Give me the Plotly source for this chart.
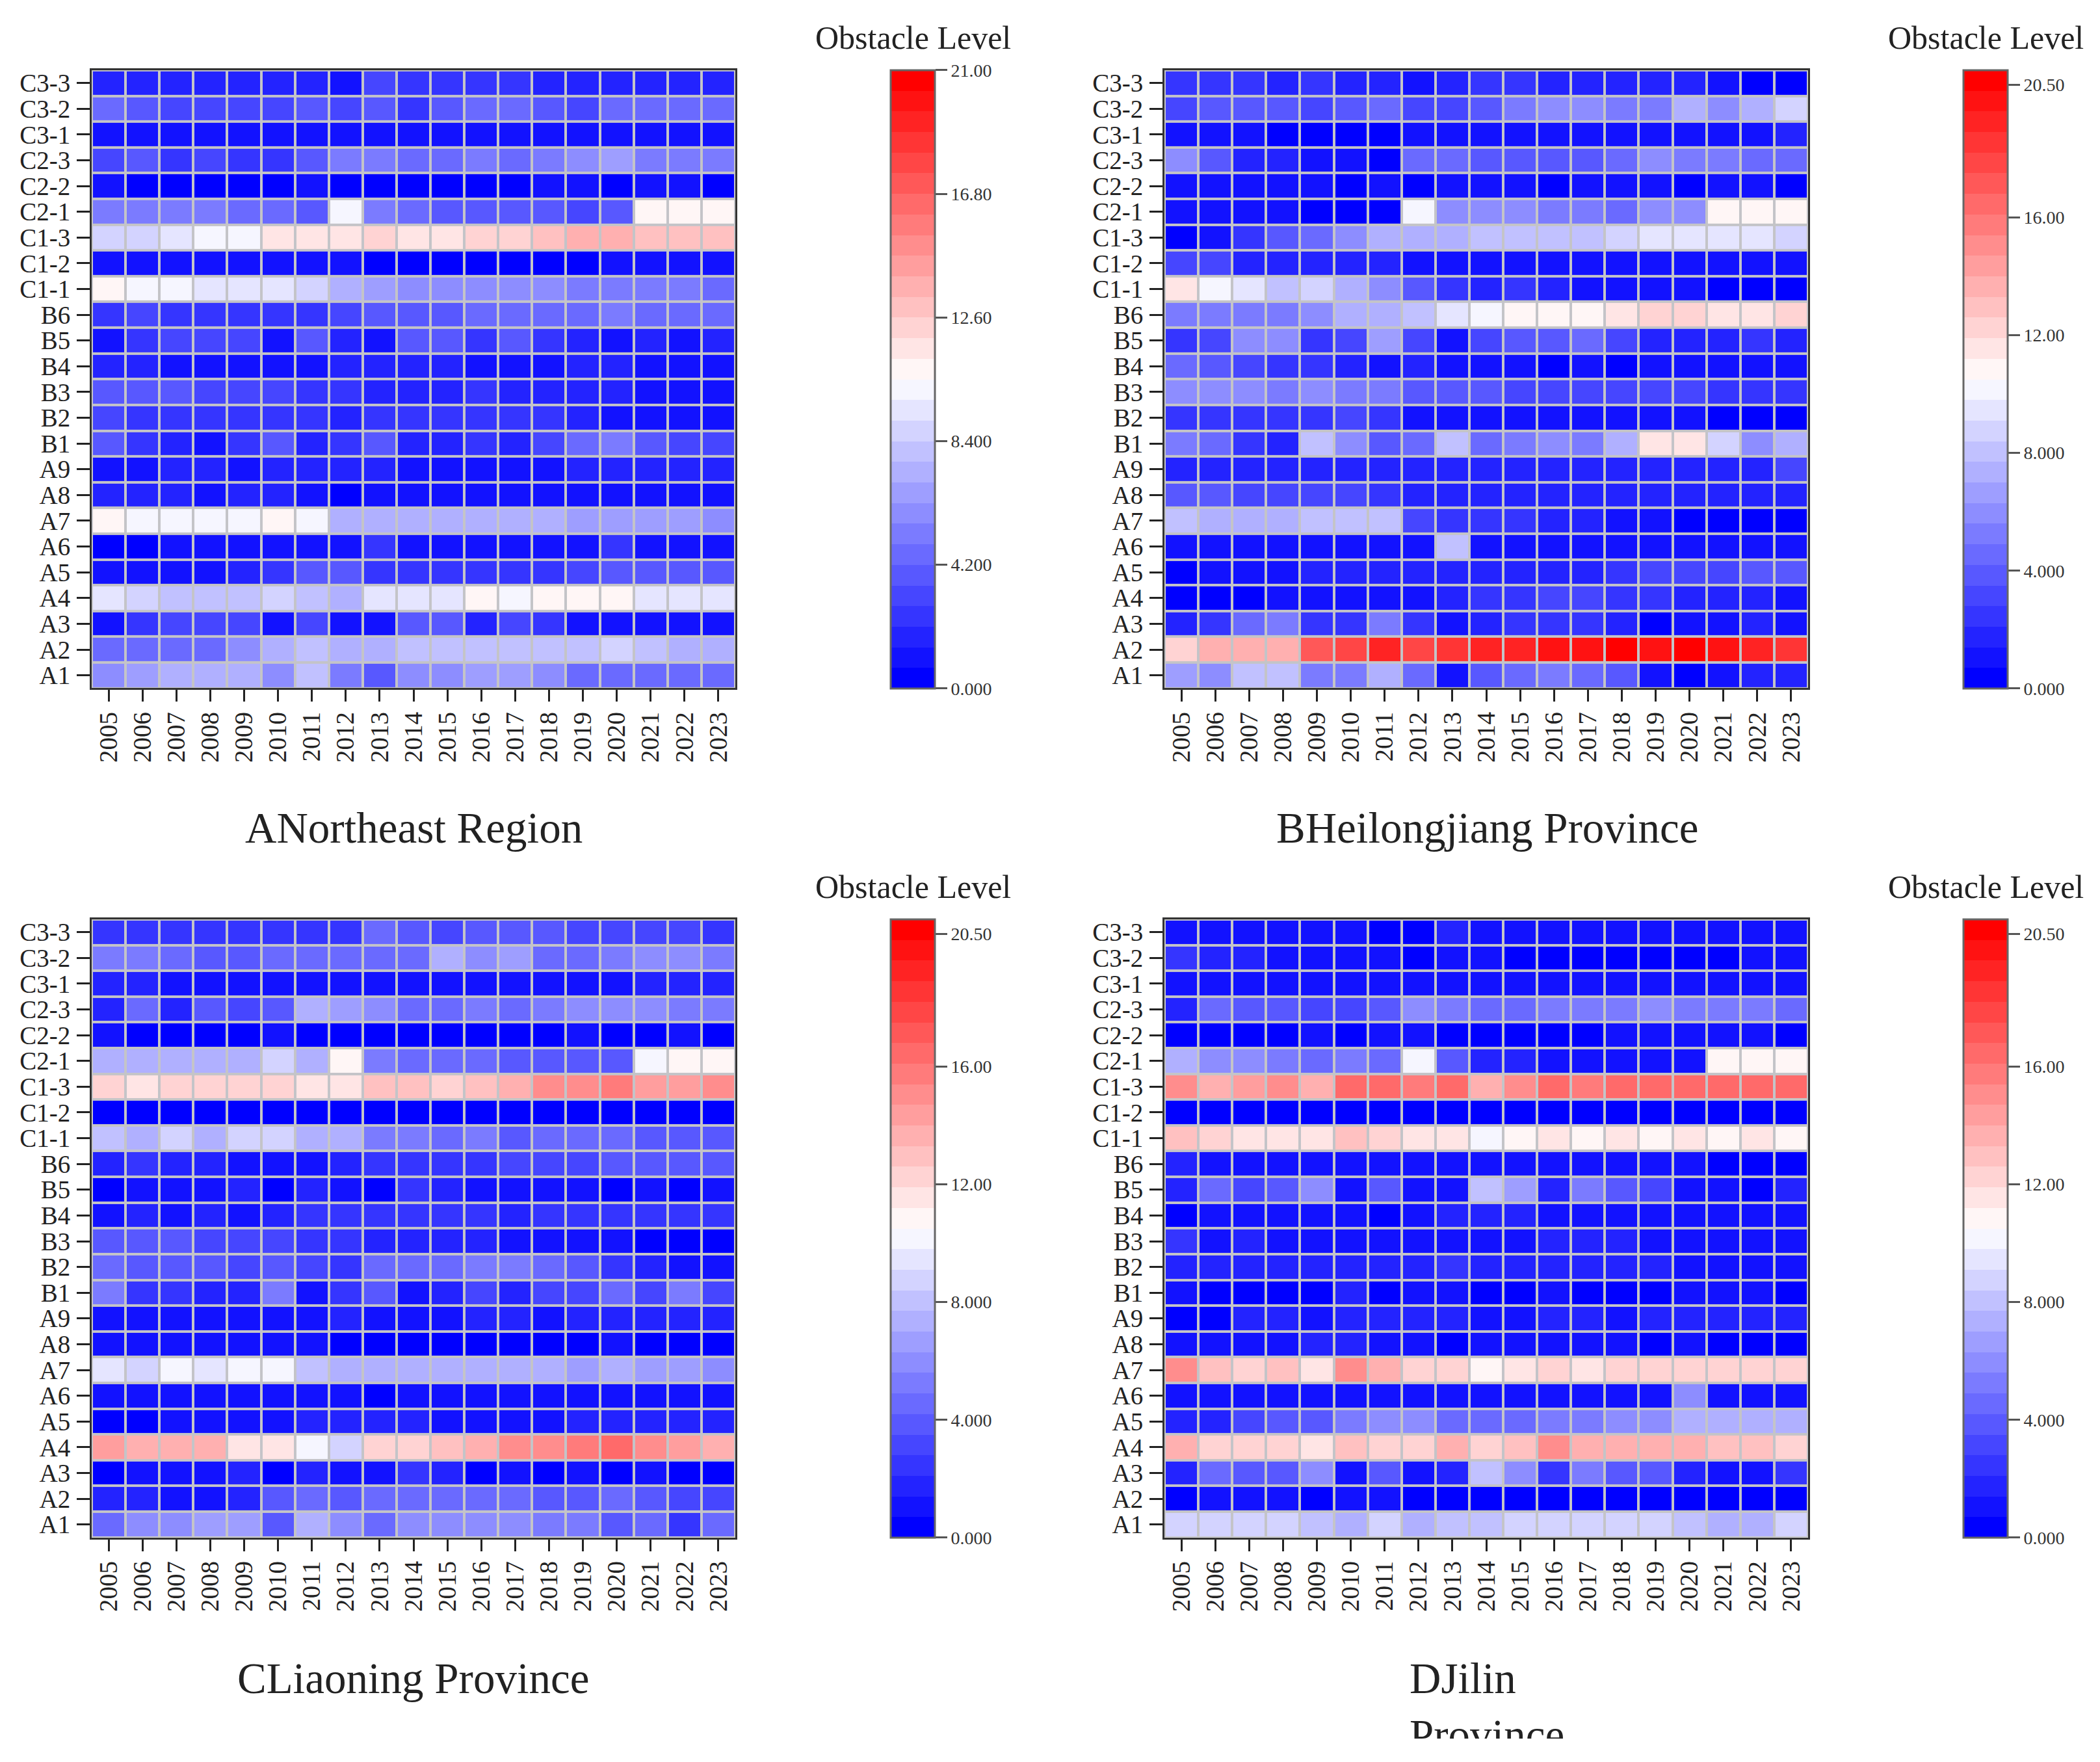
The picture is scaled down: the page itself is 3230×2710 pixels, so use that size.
import plotly.graph_objects as go

years = ['2005', '2006', '2007', '2008', '2009', '2010', '2011', '2012', '2013', '2014',
         '2015', '2016', '2017', '2018', '2019', '2020', '2021', '2022', '2023']
rows = ['C3-3', 'C3-2', 'C3-1', 'C2-3', 'C2-2', 'C2-1', 'C1-3', 'C1-2', 'C1-1', 'B6', 'B5', 'B4',
        'B3', 'B2', 'B1', 'A9', 'A8', 'A7', 'A6', 'A5', 'A4', 'A3', 'A2', 'A1']

northeast = [
    [1.6, 2, 1.8, 2, 2, 2, 1.5, 1.3, 3.4, 2.6, 2.6, 2.6, 2.6, 2, 1.8, 1.8, 1.5, 1.7, 1.4],
    [4.2, 3.6, 3.4, 3.4, 2.8, 3.4, 3.6, 2.8, 3.6, 2.5, 4, 4.2, 4.2, 3.6, 3.4, 4.2, 4.4, 4.6, 4.6],
    [1.1, 1.1, .9, .9, .9, .9, .9, .9, .9, .9, .9, .9, .9, 1.0, 1.2, 1.2, 1.2, 1.1, 1.3],
    [3.3, 3.9, 2.6, 3.2, 2.6, 2.6, 3.6, 5.3, 5.3, 4.8, 4.8, 5, 4.8, 5.2, 6, 6.4, 5.4, 5.2, 5],
    [.9, .2, .2, .2, .2, .2, .9, .2, .2, .2, .2, .2, .2, .8, .8, .2, .8, .8, .3],
    [5, 5, 5, 5, 4.4, 4.6, 3.6, 10.1, 5, 4.4, 3.8, 3.8, 3.6, 3.6, 3.4, 3.5, 10.7, 10.7, 10.7],
    [8.6, 8.6, 9.4, 10.2, 10.1, 11.3, 11.4, 11.4, 12.1, 11.6, 11.5, 12.1, 12.2, 12.9, 13.4, 13.7, 13, 13, 13],
    [1.2, 1, .9, .9, .9, .9, .9, .8, .3, .2, .2, .2, .2, .2, .2, .8, .9, .9, .9],
    [10.7, 10.2, 10.2, 9.4, 9.2, 9.2, 8.6, 7.2, 6.3, 6, 5.7, 5.7, 5.6, 5.8, 5.3, 5.5, 5, 4.9, 4.5],
    [2.6, 3.3, 2.6, 2.6, 2.6, 2.6, 2.6, 3.3, 3.6, 3.6, 3.9, 4.2, 4.2, 4.4, 4.6, 5, 4.8, 4.6, 4.6],
    [1.3, 2.6, 3.2, 3.2, 3.2, 1.3, 3.6, 1.8, .9, 3.8, 3.9, 2.6, 3.8, 2.5, 1.4, .8, 1.4, .9, 1.4],
    [1.5, 1.8, 1.3, 1.3, 1, 1.2, 1, 1.6, 1.6, 1.6, 1.6, 1.1, 1.1, 1.1, 1.5, 1.6, 1.1, 1.2, 1.1],
    [3.8, 3.8, 3.5, 3.2, 3, 3, 2.5, 2.5, 1.8, 1.6, 1.6, 2.2, 1.6, 1.4, 1.4, 1.5, 1.2, 1, .9],
    [3.2, 2.6, 2.6, 2.5, 2.5, 2.5, 2.5, 1.8, 2.4, 2.3, 2.2, 2.2, 2.4, 2.4, 1.8, 1.1, 1.2, .9, .9],
    [4, 2.6, 1.6, 1, 2.2, 4, 1.6, 2.5, 3.8, 1.6, 1.6, 2.5, 1.6, 3, 4.5, 5.4, 3.6, 3.4, 3],
    [.9, 1.2, 1.5, 1.5, 1.2, 1.5, 1.5, 1.5, 1.5, 1, 1.3, 1.3, 1.3, 1, 1.5, 1.5, 1.5, 1.5, 1.8],
    [1.6, 1.8, 1.6, 1.1, 1.8, 1.5, 1.2, .4, .9, 1, .9, .9, .9, .9, .9, 1.1, .9, .9, .9],
    [10.7, 10.1, 10.2, 10.1, 10.1, 10.7, 10, 7.5, 7.3, 7, 7, 7, 7, 7, 6.4, 6.3, 6.3, 6.3, 6.2],
    [.4, .4, .9, .9, .9, .9, .9, .9, 2.2, .9, .9, .9, .9, .9, 1.2, 2.3, .9, .9, .9],
    [.9, .9, 1.2, 1.1, 1.6, 2.5, 3.6, 3.5, 2.5, 2.5, 2.4, 2.6, 2.5, 2.5, 3.4, 3.6, 4, 4, 3.8],
    [9.2, 8.4, 8.2, 8.2, 7.8, 8.4, 8, 7.4, 9.4, 9.2, 9.2, 10.6, 10.3, 10.7, 10.7, 10.7, 9.4, 9.3, 9.4],
    [1.2, 2.6, 3.2, 3.3, 3.3, 1.3, 3.4, 1.2, .9, 4, 3.5, 2, 3.3, 2.2, 1.3, .9, .9, .9, 1.3],
    [4.2, 4.7, 4.5, 4.7, 5.8, 7, 8, 7.2, 7.6, 8, 7.8, 8, 8, 8, 8, 8.8, 8, 7.4, 7.2],
    [6.2, 6.9, 7.3, 7.4, 7, 5.6, 7.8, 5.5, 4, 6, 6.2, 6.6, 6.3, 5.8, 4.8, 4.3, 4.3, 4.2, 4.4],
]

heilongjiang = [
    [2.5, 2.6, 2.5, 2, 2.4, 2, 2, 1.3, 2, 2.2, 2.3, 1.8, 2, 1.6, 1.5, 1.5, .9, .3, .3],
    [3.4, 3.6, 3.6, 4, 3.4, 4, 4.3, 3.4, 3.1, 4, 5, 5.7, 5.6, 5, 5.3, 7.2, 6.2, 7, 8.6],
    [.9, .9, .9, .3, .3, .2, .2, .9, .9, .9, .9, .9, .9, .8, .9, .9, .9, .9, 1.5],
    [6, 3.6, 1.8, 1.7, 1.2, .9, .2, 4.6, 4.3, 3.9, 4.1, 4, 3.8, 4.6, 5.8, 5.4, 5.2, 4.6, 4.2],
    [.9, .9, .9, .9, .9, .4, .9, .2, .9, .9, .9, .2, .9, .9, .9, .2, .9, .9, .3],
    [1.2, 1.1, .9, .9, .2, .2, .2, 10.2, 5.8, 6.1, 5.7, 5, 5.1, 4.8, 5.6, 5.6, 10.7, 10.8, 10.7],
    [.2, .8, 2.6, 4, 4.6, 6.2, 7.2, 7.3, 7.2, 8, 8, 8.1, 8, 8.6, 9.3, 9.3, 9.2, 9.1, 9],
    [3.4, 3.4, 1.6, 1.8, 1.7, 1.5, 1.6, 1, .9, .9, .9, .9, .9, .9, .9, 1.2, 1.2, 1.3, 1.3],
    [11.4, 10.2, 9.4, 7.9, 8.5, 7.3, 5.7, 4, 2.6, 2, 2.2, 1.8, 1.3, 1.3, 1.2, .8, .2, .2, .3],
    [5, 5.5, 5.5, 5.5, 6, 7.2, 7.4, 8, 9.4, 10, 10.6, 10.8, 10.8, 11.3, 12.2, 12.2, 11.8, 11.7, 12.2],
    [2.6, 3.4, 6.2, 6.2, 2.1, 3.3, 6.4, 3.4, 1.3, 3.4, 3.8, 3.8, 4.5, 3.3, 1.6, 1.5, 2, 2.5, 1.9],
    [4.4, 3.9, 3.4, 2.4, 2.4, 1.6, .8, 1.6, 1.1, 1.2, .9, .4, .9, .4, .8, .8, .9, .9, .9],
    [5.6, 6, 5.8, 5, 5.6, 5.3, 5.3, 4, 3.6, 3.8, 3.3, 3.3, 3.3, 3, 3.2, 3.2, 2.6, 2.4, 2.5],
    [2.6, 2.6, 2.4, 2.4, 2.6, 3.3, 2.4, 1.2, 1, .9, .9, .9, .9, .9, .9, .8, .3, .2, .2],
    [5.5, 4.8, 2.6, 1.7, 7.9, 6.2, 3.5, 4.3, 7.8, 4.8, 5.3, 5.8, 5, 7.2, 11.5, 11.5, 8.6, 5.9, 7.1],
    [1.4, 1.7, 1.6, 1.6, 1.6, 1.6, 1.7, 1.7, 1.6, 1.7, 1.6, 1.6, 1.6, 1.7, 1.9, 1.9, 1.9, 2, 2.8],
    [3.9, 3.6, 3.3, 3, 3.4, 3.1, 2.5, 1.9, 1.9, 1.7, 1.6, 1.7, 1.7, 1.8, 1.8, 1.7, 1.7, 1.7, 1.9],
    [7.8, 7.5, 7, 7, 7.7, 7.8, 7.9, 3.1, 2.5, 2.2, 2.1, 2, 1.6, 1, .9, .2, .2, .2, .2],
    [1.1, 1.1, .9, .9, .9, .9, .9, .9, 7.9, .9, .9, .9, .9, .9, .8, .8, .8, .8, .8],
    [.2, .9, .9, .9, 1.4, 1.5, 1.8, 1.8, 1.8, 1.8, 1.9, 2, 2, 2.5, 2.8, 2.8, 3.4, 3.6, 3.8],
    [.2, .2, .2, .9, .8, .8, .8, .9, 1.4, 2.5, 2.6, 3.3, 2.8, 2.5, 2.5, 2, 1.5, 1.4, 1.3],
    [2, 2.6, 4.7, 5.3, 2.1, 2.6, 5, 2.6, .8, 2, 2.6, 2.6, 2.6, 2, .2, .9, .8, 1.4, 1.3],
    [12.2, 13.7, 13.7, 13.7, 16.8, 17.5, 19, 17.6, 18.4, 19, 19, 19.6, 19.6, 20.7, 19.7, 20.7, 19.6, 19, 18.2],
    [6.4, 6.2, 7.8, 7.9, 5, 5.5, 7.2, 4.8, 1.3, 3.8, 4.6, 5, 4.7, 3.6, .9, .2, 1.2, 2, 2],
]

liaoning = [
    [2.6, 2.6, 2.6, 2.5, 2.6, 2.5, 2.6, 2.6, 4.2, 3.6, 3.4, 3.8, 3.8, 3.6, 3.4, 3.3, 3.3, 3.2, 2.6],
    [5, 5.2, 4.4, 4, 4, 4.4, 4.8, 4.5, 4.4, 4.7, 7, 6.2, 6.3, 4.5, 4.7, 5.5, 5.6, 5.8, 5.2],
    [1.5, 1.6, 1.2, 1.2, 1.2, 1.2, 1.2, 1.2, 1.2, .9, .9, 1.1, 1.2, 1.1, 1.2, 1.3, 1.6, 1.6, 1.6],
    [1.7, 4.8, 1.6, 3.8, 3.3, 3.9, 7.1, 6.9, 5.7, 4.5, 4.4, 5, 4.8, 5, 5.8, 6, 5.6, 5.4, 5.2],
    [1, .2, .2, .2, .2, .9, .2, .2, .2, .2, .2, .2, .2, .2, .9, .2, .2, .9, .2],
    [7.1, 7.1, 7.1, 7.5, 7.6, 8.6, 7.2, 10.7, 4.9, 4.6, 4.4, 4.3, 3.5, 3.5, 3.5, 3.5, 10.2, 10.7, 10.7],
    [12.2, 11.4, 12.3, 12.2, 12.2, 12.2, 11.6, 11.4, 13, 12.8, 12.2, 12.8, 13.6, 14.7, 14.8, 15.5, 14.6, 14.6, 14.9],
    [.2, .2, .2, .2, .2, .2, .2, .2, .2, .2, .2, .2, .2, .2, .2, .2, .2, .2, .2],
    [7.9, 7.5, 8.6, 7.5, 8.4, 8.5, 7.1, 7, 5.3, 5, 4.8, 4.9, 4.1, 4.7, 4.5, 4.5, 4.1, 4, 3.8],
    [1.7, 2.3, 1.5, 1.6, 1.2, .8, .9, 1.6, 2.2, 2.6, 2.6, 2.7, 3.3, 3.4, 3.4, 3.8, 3.9, 3.9, 3.8],
    [.2, 1, 1, 1.1, 1.4, .2, 1.7, .9, .2, 2.4, 1.8, .9, 1.3, .9, .9, .2, .9, .2, .8],
    [1.2, 1.7, 1.2, 1.6, 1.1, 1.6, 2.5, 2.5, 2.6, 2.6, 2.6, 2.6, 1.8, 2.3, 2.3, 2.6, 2.6, 2.6, 2.6],
    [3.8, 3.8, 3.6, 3.3, 3.3, 3.3, 2.6, 2.6, 1.6, 1.6, 1.7, 1.7, 1.1, 1.1, 1.1, .9, .2, .2, .2],
    [4.6, 4, 3.9, 3.5, 3.4, 3.6, 3.3, 2.6, 4.5, 4.4, 4.7, 5.5, 5, 4.4, 3.9, 2.6, 1.9, 1.3, 1.2],
    [5.3, 2.6, 2.5, 1.7, 1.6, 5.3, 1.2, 2.4, 3.6, 1.2, 1.6, 3.2, 1.8, 3.3, 3.3, 4.2, 3, 5.2, 3.2],
    [1.1, 1, 1, 1.2, 1, 1, 1.3, 1.4, 1.3, 1, .9, 1.4, 1.5, 1.2, 1.4, 1.6, 1.5, 1.5, 1.6],
    [.9, .9, 1, .9, 1.1, 1.2, .9, .2, .2, .2, .2, .2, .2, .4, .2, .9, .2, .2, .2],
    [9.2, 8.6, 10.1, 9.2, 10.2, 10.1, 7.9, 7.6, 7.6, 7, 7.1, 7.1, 7.1, 7.1, 6.3, 7, 6.4, 6.4, 6],
    [.9, .9, .9, .9, .9, .9, .9, .9, .3, .9, .9, .9, .9, .9, .9, .8, .9, .9, .9],
    [.2, .2, .9, .9, 1, 1.2, 1.8, 1.8, 1.9, 1.9, .9, .9, .9, 1.3, 1.4, 1.5, 1.5, 1.5, 1.9],
    [14.6, 13.7, 13.7, 13.3, 11.5, 11.5, 10.1, 8.6, 12.4, 12.2, 12.9, 13.6, 14.7, 15.3, 15.5, 16.2, 14.7, 14.6, 13.7],
    [.2, .9, 1.2, 1.2, 1.5, .2, 1.8, 1.1, .9, 2.3, 1.7, .3, 1.2, .3, .9, .2, .9, .2, .2],
    [1.5, 1.4, 1.2, 1.3, 1.6, 3.6, 4.2, 4.1, 4.5, 4.6, 4.6, 4.7, 4.6, 4, 4, 4.6, 3.5, 3.4, 3.1],
    [4.8, 5.8, 5.6, 6.3, 6.6, 3.9, 7, 5.8, 4.2, 5.8, 6, 5.6, 5.8, 5.1, 5.3, 3.9, 4.8, 2.5, 4.6],
]

jilin = [
    [1.2, .9, .9, .9, .9, .9, .3, .2, 1.7, 1.2, 1.2, 1.2, 1.2, 1.2, 1.3, .8, .8, .8, .9],
    [2.5, 1.8, 1.5, 1, .9, .9, .9, .2, .9, .9, .2, .2, .2, .2, .2, .2, .2, .9, 1],
    [.9, 1.1, 1, .9, .9, .9, .9, .8, .9, .9, .9, 1, .8, .9, .9, 1.1, 1.1, 1.1, .9],
    [1.8, 4.8, 4.1, 3.9, 3.3, 3.4, 3.6, 6, 5.3, 4.6, 4.7, 5.5, 5.5, 5.3, 5.6, 5.4, 5.4, 5.2, 4.8],
    [.2, .2, .2, .2, .9, .2, .9, .9, .2, .2, .2, .2, .2, .9, .9, .9, .9, .9, .2],
    [7.2, 6.2, 5.7, 5.4, 4.7, 5.3, 4.8, 10.1, 3.5, 2, 1.7, 1.2, 1.2, .9, 1.2, .9, 10.7, 10.7, 10.7],
    [15, 13.9, 14, 14.7, 13.9, 16.5, 16.3, 15.8, 16.3, 13.8, 14.8, 16.7, 15.6, 16.4, 16.4, 16.3, 16.7, 16.6, 16.6],
    [.2, .2, .2, .2, .2, .2, .2, .2, .2, .2, .2, .2, .2, .2, .2, .2, .2, .2, .2],
    [12.8, 12, 11.4, 11.4, 11.4, 12.8, 12, 11.4, 11.4, 10, 10.6, 11.4, 10.6, 11.4, 10.7, 11.4, 10.7, 11.4, 10.7],
    [1.7, 1, 1.2, 1.2, 1.2, .9, .9, 1, 1.1, .9, .9, .9, .9, .9, .9, .9, .2, .2, .2],
    [1.8, 4.3, 3.2, 3.5, 6.2, .9, 3.6, .9, 1.2, 7.9, 6.4, 1.7, 5, 3.5, 3.2, 1.3, .8, .2, 1.8],
    [.2, .9, .9, .9, .9, .9, .2, 1.1, 1.6, 1.6, 1.6, 1.1, 1.1, 1.2, 1.2, 1.2, 1.3, 1.2, 1.2],
    [2.5, 1.2, 1.6, 1.1, 1.2, 1.1, 1.2, .9, .9, .9, .9, 1.5, 1.5, 1.4, 1.1, 1.1, 1.1, .9, .9],
    [1.6, 1.7, 1.6, 1.6, 1.7, 1.5, 1.6, 1.8, 2.3, 1.6, 1.6, 1.7, 1.7, 1.6, 1.7, 1.3, 1.1, .9, .9],
    [.9, .2, .2, .2, .2, 1.5, .2, .9, .9, .2, .2, .9, .2, .2, .2, .9, .9, 1.1, .2],
    [.2, .2, 1.6, 1.6, 1.2, 1.5, 1.7, 1.7, 1.5, 1.1, 1.2, 1.6, 1.6, 1.2, 1.6, 1.7, 1.7, 1.7, 1.8],
    [1.1, 1.2, 1, .9, 1.6, 1.6, .9, .9, .2, 1.1, .9, .9, .9, .9, .2, .9, .2, .2, .2],
    [14.8, 13, 12.4, 12.9, 11.4, 14.8, 13.7, 12.4, 12.4, 10.7, 11.5, 12.3, 11.4, 12.3, 12.3, 12.3, 12.3, 12.3, 12.3],
    [.9, .9, .9, .9, .9, .9, .9, 1.1, .9, .9, .9, .9, .9, .9, 1.3, 6, .9, .9, .9],
    [2, 2, 2.8, 3.8, 3.9, 5, 5.7, 5.6, 4.8, 4.3, 4.8, 4.9, 5, 5.6, 6.2, 7.1, 7.1, 7.1, 7.2],
    [13.6, 12.4, 12.4, 12.4, 11.4, 12.8, 12.2, 12.2, 13.5, 12.4, 12.9, 14.7, 13.7, 13.6, 13.7, 13.7, 13, 13, 12.4],
    [2, 4.2, 3.5, 3.6, 5.7, .9, 3.5, .9, 1.5, 7.8, 5.9, 2.6, 5.2, 3.9, 3.5, 1.4, .9, .8, 2.6],
    [.2, .9, .9, .9, .2, .9, .9, .2, .2, .2, .2, .2, .2, .2, .2, .2, .2, .2, .2],
    [8.5, 8.5, 8.4, 8.4, 8.3, 7.2, 8.5, 7.1, 7.8, 7.9, 8.4, 8.6, 8.6, 8.5, 8.6, 7.9, 7.2, 7, 8.4],
]

ticks_a = [0, 4.2, 8.4, 12.6, 16.8, 21]
labels_a = ['0.000', '4.200', '8.400', '12.60', '16.80', '21.00']
ticks_b = [0, 4, 8, 12, 16, 20.5]
labels_b = ['0.000', '4.000', '8.000', '12.00', '16.00', '20.50']

W, H = 3230, 2710
FONT = 'Liberation Serif'
N_BANDS = 30


def band_colour(t):
    # blue -> white -> red
    if t <= 0.5:
        v = round(255 * t * 2)
        return f'rgb({v},{v},255)'
    v = round(255 * (1 - t) * 2)
    return f'rgb(255,{v},{v})'


# stepped colour scale, the legend shows distinct bands
scale = []
for i in range(N_BANDS):
    c = band_colour(i / (N_BANDS - 1))
    scale.append([i / N_BANDS, c])
    scale.append([(i + 1) / N_BANDS, c])

panels = [
    (northeast, 141, 106, ticks_a, labels_a),
    (heilongjiang, 1791, 106, ticks_b, labels_b),
    (liaoning, 141, 1414, ticks_b, labels_b),
    (jilin, 1791, 1414, ticks_b, labels_b),
]
PW, PH = 990, 952

fig = go.Figure()
layout = {}
annotations = []
for i, (z, left, top, tv, tt) in enumerate(panels):
    n = '' if i == 0 else str(i + 1)
    fig.add_trace(go.Heatmap(
        z=z, x=years, y=rows, xaxis='x' + n, yaxis='y' + n,
        zmin=0, zmax=21, colorscale=scale, xgap=4, ygap=4,
        colorbar=dict(
            x=(left + 1229) / W, xanchor='left', xpad=0,
            y=1 - top / H, yanchor='top', ypad=0, len=PH / H, lenmode='fraction',
            thickness=68, thicknessmode='pixels',
            outlinecolor='#666666', outlinewidth=3,
            tickmode='array', tickvals=tv, ticktext=tt,
            ticks='outside', ticklen=18, tickwidth=3, tickcolor='#555555',
            tickfont=dict(family=FONT, size=28, color='#333333'),
        ),
    ))
    layout['xaxis' + n] = dict(
        domain=[left / W, (left + PW) / W], anchor='y' + n, type='category',
        tickangle=-90, ticks='outside', ticklen=18, tickwidth=3, tickcolor='#222222',
        tickfont=dict(family=FONT, size=39, color='#222222'),
        showline=True, mirror=True, linecolor='#333333', linewidth=3, showgrid=False,
    )
    layout['yaxis' + n] = dict(
        domain=[1 - (top + PH) / H, 1 - top / H], anchor='x' + n, type='category', dtick=1,
        autorange='reversed', ticks='outside', ticklen=20, tickwidth=3, tickcolor='#222222',
        tickfont=dict(family=FONT, size=39, color='#222222'), ticklabelstandoff=2,
        showline=True, mirror=True, linecolor='#333333', linewidth=3, showgrid=False,
    )
    annotations.append(dict(
        text='Obstacle Level', x=(left + 1263) / W, y=1 - (top - 50) / H,
        xref='paper', yref='paper', xanchor='center', yanchor='middle', showarrow=False,
        font=dict(family=FONT, size=50, color='#222222'),
    ))


def panel_title(text, cx, cy):
    return dict(text=text, x=cx / W, y=1 - cy / H, xref='paper', yref='paper',
                xanchor='center', yanchor='middle', showarrow=False,
                font=dict(family=FONT, size=67, color='#222222'))


annotations.append(panel_title('ANortheast Region', 636, 1273))
annotations.append(panel_title('BHeilongjiang Province', 2287, 1273))
annotations.append(panel_title('CLiaoning Province', 636, 2583))
# the last title wraps and its second line is cut off by the page crop in the reference
annotations.append(dict(
    text='DJilin<br>Province', x=2166 / W, y=1 - 2544 / H, xref='paper', yref='paper',
    xanchor='left', yanchor='top', showarrow=False, align='left', valign='top',
    height=130, font=dict(family=FONT, size=67, color='#222222'),
))

fig.update_layout(
    width=W, height=H, autosize=False, margin=dict(l=0, r=0, t=0, b=0, pad=0),
    paper_bgcolor='white', plot_bgcolor='#c4c4c8', annotations=annotations, **layout,
)
fig.write_html('out.html', config=dict(displayModeBar=False),
               post_script="document.body.style.margin='0';")
